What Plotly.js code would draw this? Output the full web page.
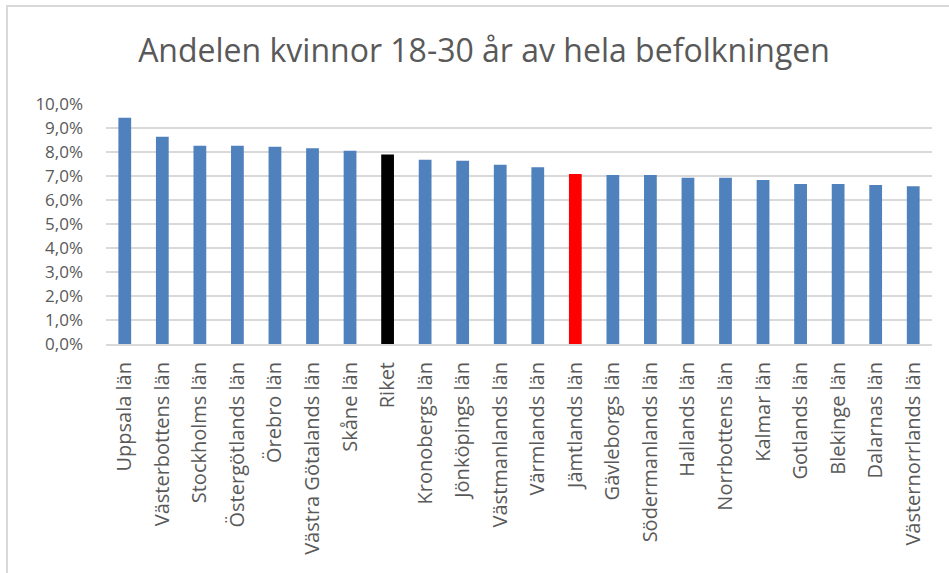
<!DOCTYPE html>
<html>
<head>
<meta charset="utf-8">
<script src="https://cdn.plot.ly/plotly-3.0.1.min.js"></script>
<style>
  html, body { margin: 0; padding: 0; background: #fff; }
  #wrap { position: relative; width: 949px; height: 573px; overflow: hidden; }
  #frame { position: absolute; left: 6px; top: 5px; width: 1000px; height: 1000px;
           border-top: 2px solid #d9d9d9; border-left: 2px solid #d9d9d9; pointer-events: none; z-index: 5; }
  #chart { position: absolute; left: 0; top: 0; width: 949px; height: 573px; }
</style>
</head>
<body>
<div id="wrap">
  <div id="chart"></div>
  <div id="frame"></div>
</div>
<script>
const regions = ["Uppsala län", "Västerbottens län", "Stockholms län", "Östergötlands län", "Örebro län",
  "Västra Götalands län", "Skåne län", "Riket", "Kronobergs län", "Jönköpings län", "Västmanlands län",
  "Värmlands län", "Jämtlands län", "Gävleborgs län", "Södermanlands län", "Hallands län",
  "Norrbottens län", "Kalmar län", "Gotlands län", "Blekinge län", "Dalarnas län", "Västernorrlands län"];
const shares = [0.0943, 0.0864, 0.0826, 0.0826, 0.0822, 0.0816, 0.0805, 0.0790, 0.0768, 0.0764, 0.0747,
  0.0736, 0.0708, 0.0704, 0.0704, 0.0693, 0.0693, 0.0683, 0.0667, 0.0667, 0.0663, 0.0657];
const yTicks = [0, 0.01, 0.02, 0.03, 0.04, 0.05, 0.06, 0.07, 0.08, 0.09, 0.10];
const yTickLabels = ["0,0%", "1,0%", "2,0%", "3,0%", "4,0%", "5,0%", "6,0%", "7,0%", "8,0%", "9,0%", "10,0%"];

const colors = regions.map(r => r === "Riket" ? "#000000" : (r === "Jämtlands län" ? "#ff0000" : "#4f81bd"));

const trace = {
  type: "bar",
  x: regions,
  y: shares,
  marker: { color: colors, line: { width: 0 } },
  hoverinfo: "x+y"
};

const layout = {
  width: 949, height: 573,
  paper_bgcolor: "#ffffff", plot_bgcolor: "#ffffff",
  margin: { l: 105.5, r: 16.5, t: 104, b: 228.5, pad: 0 },
  font: { family: "Open Sans, sans-serif", color: "#595959" },
  title: { text: "Andelen kvinnor 18-30 år av hela befolkningen",
           font: { size: 32, color: "#595959", family: "Open Sans, sans-serif" },
           x: 0.51, xanchor: "center", y: 0.912, yanchor: "middle" },
  bargap: 0.66,
  showlegend: false,
  xaxis: {
    type: "category",
    tickangle: -90,
    tickfont: { size: 20, color: "#595959" },
    showline: true, linecolor: "#d9d9d9", linewidth: 2,
    ticks: "", showgrid: false,
    ticklabelstandoff: 8
  },
  yaxis: {
    range: [0, 0.10],
    tickvals: yTicks, ticktext: yTickLabels,
    tickfont: { size: 17, color: "#595959" },
    showgrid: true, gridcolor: "#d9d9d9", gridwidth: 2,
    zeroline: false, showline: false, ticks: "",
    ticklabelstandoff: 22
  }
};

Plotly.newPlot("chart", [trace], layout, { displayModeBar: false, staticPlot: true });
</script>
</body>
</html>
